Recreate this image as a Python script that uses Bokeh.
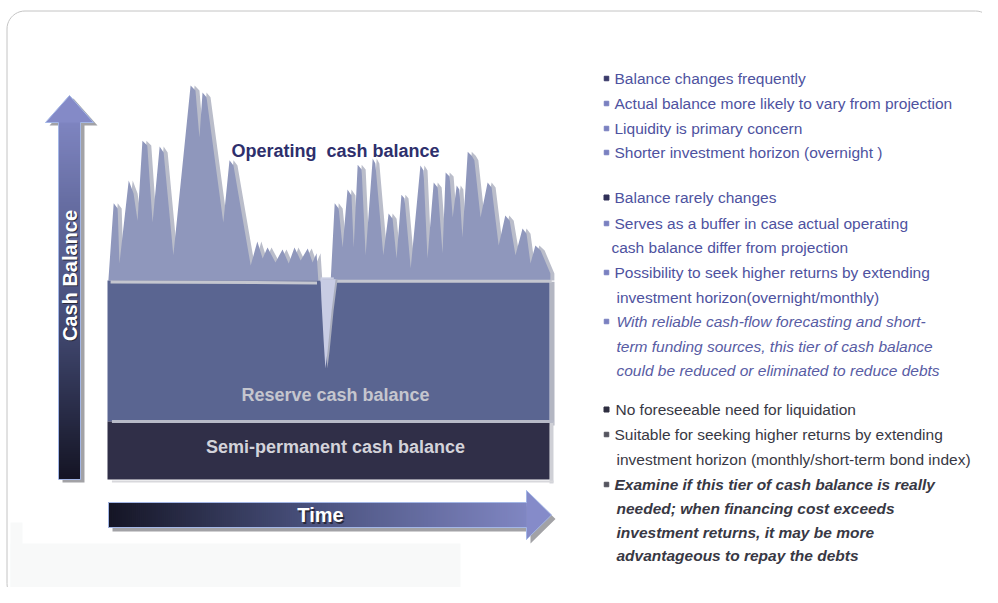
import numpy as np
from bokeh.plotting import figure
from bokeh.models import Range1d
from bokeh.core.properties import value
from bokeh.embed import file_html
from bokeh.resources import INLINE

# ---------------- data (time 0..100, cash-balance units) ----------------
time_start, time_end = 0.0, 100.0
semi_permanent_level = 14.7
reserve_level = 50.5

op_left_time = [0.2, 1.4, 2.3, 2.7, 4.8, 5.9, 6.8, 7.9, 9.0, 10.2, 11.8, 12.7, 14.9,
                18.8, 19.9, 20.8, 21.5, 22.4, 26.2, 27.6, 28.5, 32.4, 33.9, 35.1,
                36.2, 38.0, 39.6, 41.0, 42.3, 43.7, 45.3, 46.4, 47.3, 47.7]
op_left_level = [50.5, 70.1, 68.8, 54.8, 75.9, 72.6, 65.7, 86.0, 84.8, 65.2, 84.5, 83.0, 56.9,
                 100.0, 98.7, 86.8, 98.2, 97.0, 65.2, 81.0, 79.7, 54.3, 60.4, 56.1,
                 58.9, 55.1, 58.4, 54.8, 58.9, 55.6, 58.6, 55.1, 57.4, 50.5]
op_right_time = [50.5, 51.4, 52.3, 53.2, 54.3, 55.2, 55.7, 56.6, 57.5, 58.4, 60.0, 60.6,
                 62.4, 63.6, 64.5, 65.4, 66.5, 67.2, 68.6, 70.8, 71.5, 72.4, 73.8, 74.7,
                 75.8, 76.5, 77.4, 78.1, 79.0, 79.6, 80.3, 81.5, 82.4, 83.0, 84.4, 86.0,
                 86.9, 88.5, 90.0, 91.0, 92.3, 93.9, 94.8, 95.7, 96.8, 98.0, 100.2, 100.2]
op_right_level = [50.5, 70.1, 68.8, 58.9, 73.6, 72.1, 58.9, 79.9, 78.7, 56.9, 81.5, 80.2,
                  56.9, 67.5, 66.2, 56.1, 72.3, 71.3, 53.6, 79.7, 78.4, 56.1, 75.4, 74.1,
                  57.4, 77.9, 76.9, 66.5, 74.6, 73.6, 61.4, 83.2, 82.2, 81.0, 66.5, 75.4,
                  74.1, 59.4, 67.0, 65.7, 56.9, 63.7, 62.4, 54.8, 59.4, 58.1, 52.3, 50.5]
dip_time = [48.2, 48.4, 48.9, 49.3, 49.8, 50.7, 51.6]
dip_level = [50.8, 45.4, 35.3, 28.2, 32.7, 42.9, 50.8]

layer_labels = ["Operating\u00a0 cash balance", "Reserve cash balance", "Semi-permanent cash balance"]
axis_labels = ["Cash Balance", "Time"]

group1 = ["Balance changes frequently",
          "Actual balance more likely to vary from projection",
          "Liquidity is primary concern",
          "Shorter investment horizon (overnight )"]
group2 = ["Balance rarely changes",
          "Serves as a buffer in case actual operating",
          "cash balance differ from projection",
          "Possibility to seek higher returns by extending",
          "investment horizon(overnight/monthly)"]
group2_italic = ["With reliable cash-flow forecasting and short-",
                 "term funding sources, this tier of cash balance",
                 "could be reduced or eliminated to reduce debts"]
group3 = ["No foreseeable need for liquidation",
          "Suitable for seeking higher returns by extending",
          "investment horizon (monthly/short-term bond index)"]
group3_bold = ["Examine if this tier of cash balance is really",
               "needed; when financing cost exceeds",
               "investment returns, it may be more",
               "advantageous to repay the debts"]

# ---------------- layout helpers (picture pixels -> data units) ----------------
PX_T, PX_B, X0, Y0 = 4.42, 3.94, 107.0, 479.0
def X(px): return (np.asarray(px, dtype=float) - X0) / PX_T
def Y(py): return (Y0 - np.asarray(py, dtype=float)) / PX_B

W, H = 982, 587
p = figure(width=W, height=H, output_backend="svg", toolbar_location=None,
           x_range=Range1d(float(X(0)), float(X(W))), y_range=Range1d(float(Y(H)), float(Y(0))),
           min_border=0, x_axis_type=None, y_axis_type=None)
p.grid.visible = False
p.outline_line_color = None
p.background_fill_color = "white"
p.border_fill_color = "white"

FONT = value("Liberation Sans")

# frame with rounded corners
def rounded(l, t, r, b, rad, n=12):
    pts = []
    for cx, cy, a0 in [(l + rad, t + rad, np.pi), (r - rad, t + rad, 1.5 * np.pi),
                       (r - rad, b - rad, 0.0), (l + rad, b - rad, 0.5 * np.pi)]:
        a = np.linspace(a0, a0 + 0.5 * np.pi, n)
        pts += list(zip(cx + rad * np.cos(a), cy + rad * np.sin(a)))
    pts.append(pts[0])
    xs, ys = zip(*pts)
    return X(xs), Y(ys)

# faint panel bottom-left
p.quad(left=X([10, 10]), right=X([22, 460]), top=Y([522, 543]), bottom=Y([600, 600]),
       fill_color="#f8f9f9", line_color=None)
fx, fy = rounded(6.5, 10.5, 993, 601, 18)
p.line(fx, fy, line_color="#c4c4c4", line_width=1)

# ---------------- layers ----------------
sh = 4 / PX_T
for ts, ls in [(op_left_time, op_left_level), (op_right_time, op_right_level)]:
    p.patch(np.array(ts) + sh, ls, fill_color="#babdca", line_color=None)
    p.patch(ts, ls, fill_color="#8f97bc", line_color=None)

# reserve block + shadow
p.quad(left=[time_end], right=[time_end + 5 / PX_T], top=[reserve_level - 0.3], bottom=[semi_permanent_level - 1],
       fill_color="#b3b6c2", line_color=None)
p.quad(left=[time_start], right=[time_end], top=[reserve_level], bottom=[semi_permanent_level],
       fill_color="#5a6591", line_color=None)
# reserve top highlight
p.line([time_start + 0.7, op_left_time[-1] - 0.3], [reserve_level - 0.35, reserve_level - 0.6], line_color="#c4c6cf", line_width=3)
p.line([op_right_time[0] + 0.8, time_end + 0.5], [reserve_level - 0.2, reserve_level - 0.2], line_color="#c4c6cf", line_width=3)

# semi-permanent block
p.quad(left=[time_end], right=[time_end + 4 / PX_T], top=[semi_permanent_level], bottom=[-1.0],
       fill_color="#cfd0d6", line_color=None)
p.quad(left=[time_start], right=[time_end], top=[semi_permanent_level], bottom=[0.0],
       fill_color="#302f48", line_color=None)
p.line([time_start + 1.0, time_end + 0.9], [semi_permanent_level, semi_permanent_level], line_color="#b7bac8", line_width=3)
p.line([time_start + 1.0, time_end + 0.9], [-0.5, -0.5], line_color="#d8d8dc", line_width=2)

# dip of the operating balance into the reserve
p.quad(left=[dip_time[0]], right=[dip_time[-1] - 0.4], top=[reserve_level + 0.8], bottom=[reserve_level - 0.3],
       fill_color="#c9cde2", line_color=None)
p.patch(np.array(dip_time) + 2 / PX_T, dip_level, fill_color="#a9adbd", line_color=None)
p.patch(dip_time, dip_level, fill_color="#c8cce4", line_color=None)

# ---------------- gradient arrows ----------------
stops = [(0.0, (20, 20, 36)), (0.45, (72, 80, 124)), (1.0, (134, 140, 202))]
def grad(f):
    f = min(max(f, 0.0), 1.0)
    for (p0, c0), (p1, c1) in zip(stops, stops[1:]):
        if f <= p1:
            u = (f - p0) / (p1 - p0)
            return "#%02x%02x%02x" % tuple(int(round(a + (b - a) * u)) for a, b in zip(c0, c1))
    return "#%02x%02x%02x" % stops[-1][1]

# vertical arrow
v_out_x = [58, 58, 45, 69, 93, 80, 80]
v_out_y = [479, 122, 122, 95, 122, 122, 479]
p.patch(X(np.array(v_out_x) + 4), Y(np.array(v_out_y) + 3), fill_color="#a2a2a6", line_color=None)
edges = np.arange(122, 480, 2.0)
p.quad(left=[X(58)] * (len(edges) - 1), right=[X(80)] * (len(edges) - 1),
       top=Y(edges[:-1] - 0.4), bottom=Y(edges[1:] + 0.4),
       fill_color=[grad((479 - (a + 1)) / (479 - 95)) for a in edges[:-1]], line_color=None)
p.patch(X([45, 69, 93]), Y([122, 95, 122]), fill_color=grad(0.98), line_color=None)
p.patch(X(v_out_x), Y(v_out_y), fill_color=None, line_color="#a3b6e6", line_width=1)

# horizontal arrow
h_out_x = [108, 526, 526, 551, 526, 526, 108]
h_out_y = [502, 502, 490, 514.5, 539, 527, 527]
p.patch(X(np.array(h_out_x) + 4), Y(np.array(h_out_y) + 4), fill_color="#a2a2a6", line_color=None)
xe = np.arange(108, 527, 2.0)
p.quad(left=X(xe[:-1] - 0.4), right=X(xe[1:] + 0.4), top=[Y(502)] * (len(xe) - 1), bottom=[Y(527)] * (len(xe) - 1),
       fill_color=[grad((a + 1 - 108) / (551 - 108)) for a in xe[:-1]], line_color=None)
p.patch(X([526, 551, 526]), Y([490, 514.5, 539]), fill_color=grad(0.99), line_color=None)
p.patch(X(h_out_x), Y(h_out_y), fill_color=None, line_color="#a3b6e6", line_width=1)

# ---------------- texts ----------------
def txt(xs, ys, texts, color, size, style="normal", align="left", angle=0.0):
    p.text(x=xs, y=ys, text=texts, text_color=color, text_font=FONT, text_font_size=value(size),
           text_font_style=style, text_align=align, text_baseline="middle", angle=angle)

# axis arrow labels with shadows
txt([X(70.5)], [Y(276)], [axis_labels[0]], "#2a2a3a", "20px", "bold", "center", np.pi / 2)
txt([X(69)], [Y(275)], [axis_labels[0]], "white", "20px", "bold", "center", np.pi / 2)
txt([X(321.5)], [Y(516)], [axis_labels[1]], "#2a2a3a", "20px", "bold", "center")
txt([X(320)], [Y(514.5)], [axis_labels[1]], "white", "20px", "bold", "center")

txt([X(335)], [Y(150)], [layer_labels[0]], "#2e2f6c", "18px", "bold", "center")
txt([X(335)], [Y(394)], [layer_labels[1]], "#c5c6ce", "18px", "bold", "center")
txt([X(335)], [Y(446)], [layer_labels[2]], "#d3d3da", "18px", "bold", "center")

BLUE = "#4e52a0"
GRAY = "#383844"
FS = "15.5px"
# group 1
txt([X(614)] * 4, Y([78, 103, 128, 152]), group1, BLUE, FS)
# group 2
txt(X([614, 614, 611, 614, 616]), Y([197, 223, 247, 272, 297]), group2, BLUE, FS)
txt([X(616)] * 3, Y([321, 346, 370]), group2_italic, "#585ca4", FS, "italic")
# group 3
txt(X([615, 614, 616]), Y([409, 434, 459]), group3, GRAY, FS)
txt(X([614, 616, 616, 616]), Y([484, 508, 532, 555]), group3_bold, GRAY, FS, "bold italic")

# bullets
p.scatter(X([606] * 9), Y([78, 103, 128, 152, 223, 272, 321, 434, 484]),
          marker="square", size=4.5,
          color=["#3a3a6a", "#7a80c0", "#7a80c0", "#7a80c0", "#7a80c0", "#7a80c0", "#7a80c0", "#55555f", "#55555f"])
p.scatter(X([606, 606]), Y([197, 409]), marker="square", size=5, color=["#303058", "#2e2e40"])

open("out.html", "w").write(file_html(p, INLINE))
